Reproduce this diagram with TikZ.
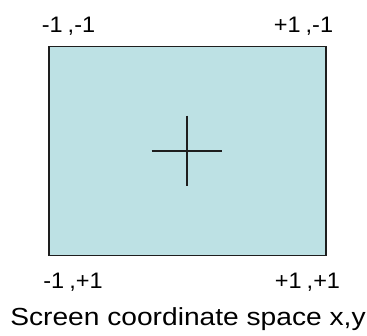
\documentclass[tikz,border=0pt]{standalone}
\usepackage{fontspec}
\setmainfont{Liberation Sans}
\newfontfamily\cornerfont{Liberation Sans}[FakeStretch=1.05]
\newfontfamily\captionfont{Liberation Sans}[FakeStretch=1.14]
\definecolor{screenfill}{RGB}{189,225,228}
\definecolor{inkline}{RGB}{30,30,30}
\newcommand{\pairsep}{\hspace{5pt},}

\begin{document}
\begin{tikzpicture}[
  x=1pt,y=-1pt,
  screen/.style={draw=inkline,line width=1.8pt,fill=screenfill,minimum width=277pt,minimum height=209pt,inner sep=0pt},
  corner/.style={anchor=base,inner sep=0pt,font=\cornerfont\fontsize{22.4}{26}\selectfont},
  crosshair/.style={draw=inkline,line width=1.8pt}
]
  \useasboundingbox (0,0) rectangle (367,335);

  \node[screen] (S) at (187.2,151) {};

  \coordinate (hl) at (151.7,151);
  \coordinate (hr) at (222.3,151);
  \coordinate (vt) at (187.3,115.7);
  \coordinate (vb) at (187.3,185.7);
  \draw[crosshair] (hl) -- (hr);
  \draw[crosshair] (vt) -- (vb);

  \node[corner] (TL) at (68.5,32.5) {-1\pairsep-1};
  \node[corner] (TR) at (303.5,32.5) {+1\pairsep-1};
  \node[corner] (BL) at (73,288.3) {-1\pairsep+1};
  \node[corner] (BR) at (307.5,288.3) {+1\pairsep+1};

  \node[anchor=base,inner sep=0pt,font=\captionfont\fontsize{24.7}{29}\selectfont] (cap) at (188,325) {Screen coordinate space x,y};
\end{tikzpicture}
\end{document}
